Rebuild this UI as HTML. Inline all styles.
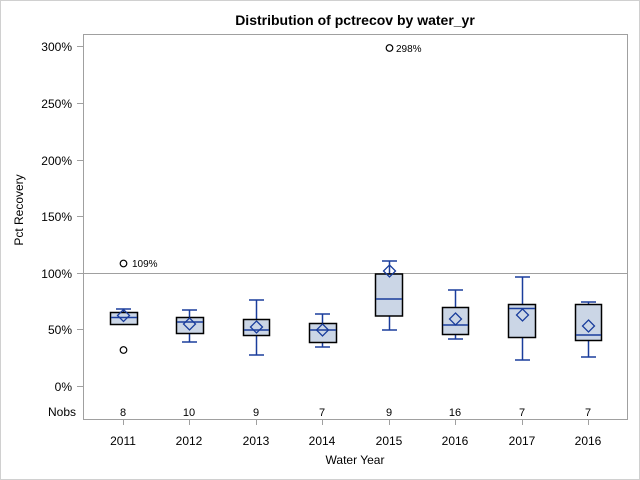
<!DOCTYPE html>
<html><head><meta charset="utf-8"><style>
html,body{margin:0;padding:0;background:#fff}
svg{display:block;font-family:"Liberation Sans",Arial,sans-serif}
</style></head><body>
<svg width="640" height="480" viewBox="0 0 640 480">
<rect x="0.5" y="0.5" width="639" height="479" fill="#fff" stroke="#d0d0d0"/>
<text x="355" y="25" text-anchor="middle" font-size="14" font-weight="bold" fill="#000">Distribution of pctrecov by water_yr</text>
<rect x="83.5" y="34.5" width="544" height="385" fill="none" stroke="#a0a0a0"/>
<line x1="83" y1="273.5" x2="627" y2="273.5" stroke="#a0a0a0"/>
<g font-size="12" fill="#000" text-anchor="end">
<text x="72" y="51">300%</text><text x="72" y="108">250%</text><text x="72" y="165">200%</text>
<text x="72" y="221">150%</text><text x="72" y="278">100%</text><text x="72" y="334">50%</text>
<text x="72" y="391">0%</text><text x="76" y="416">Nobs</text>
</g>
<g stroke="#a0a0a0">
<line x1="77" y1="46.5" x2="83" y2="46.5"/><line x1="77" y1="103.5" x2="83" y2="103.5"/>
<line x1="77" y1="160.5" x2="83" y2="160.5"/><line x1="77" y1="216.5" x2="83" y2="216.5"/>
<line x1="77" y1="273.5" x2="83" y2="273.5"/><line x1="77" y1="329.5" x2="83" y2="329.5"/>
<line x1="77" y1="386.5" x2="83" y2="386.5"/>
</g>
<text x="23" y="210" font-size="12" text-anchor="middle" transform="rotate(-90 23 210)">Pct Recovery</text>
<text x="355" y="464" font-size="12" text-anchor="middle">Water Year</text>
<g font-size="12" text-anchor="middle">
<text x="123" y="445">2011</text><text x="189" y="445">2012</text><text x="256" y="445">2013</text><text x="322" y="445">2014</text>
<text x="389" y="445">2015</text><text x="455" y="445">2016</text><text x="522" y="445">2017</text><text x="588" y="445">2016</text>
</g>
<g font-size="11" text-anchor="middle">
<text x="123" y="416">8</text><text x="189" y="416">10</text><text x="256" y="416">9</text><text x="322" y="416">7</text>
<text x="389" y="416">9</text><text x="455" y="416">16</text><text x="522" y="416">7</text><text x="588" y="416">7</text>
</g>
<g stroke="#a0a0a0">
<line x1="123.5" y1="419" x2="123.5" y2="425"/><line x1="189.5" y1="419" x2="189.5" y2="425"/>
<line x1="256.5" y1="419" x2="256.5" y2="425"/><line x1="322.5" y1="419" x2="322.5" y2="425"/>
<line x1="389.5" y1="419" x2="389.5" y2="425"/><line x1="455.5" y1="419" x2="455.5" y2="425"/>
<line x1="522.5" y1="419" x2="522.5" y2="425"/><line x1="588.5" y1="419" x2="588.5" y2="425"/>
</g>
<g id="boxes" stroke-width="1.5">
<!-- cx, box l..r, top,bottom, median, mean, wt, wb -->
<g>
<line x1="123.5" y1="309" x2="123.5" y2="324" stroke="#1a3d9c"/><line x1="116" y1="309" x2="131" y2="309" stroke="#1a3d9c"/>
<rect x="110.5" y="312.5" width="27" height="12" fill="#cbd6e6" stroke="#000"/>
<line x1="111" y1="317.5" x2="137" y2="317.5" stroke="#1a3d9c"/>
</g>
<g>
<line x1="189.5" y1="310" x2="189.5" y2="342" stroke="#1a3d9c"/><line x1="182" y1="310" x2="197" y2="310" stroke="#1a3d9c"/><line x1="182" y1="342" x2="197" y2="342" stroke="#1a3d9c"/>
<rect x="176.5" y="317.5" width="27" height="16" fill="#cbd6e6" stroke="#000"/>
<line x1="177" y1="322" x2="203" y2="322" stroke="#1a3d9c"/>
</g>
<g>
<line x1="256.5" y1="300" x2="256.5" y2="355" stroke="#1a3d9c"/><line x1="249" y1="300" x2="264" y2="300" stroke="#1a3d9c"/><line x1="249" y1="355" x2="264" y2="355" stroke="#1a3d9c"/>
<rect x="243.5" y="319.5" width="26" height="16" fill="#cbd6e6" stroke="#000"/>
<line x1="244" y1="330" x2="269" y2="330" stroke="#1a3d9c"/>
</g>
<g>
<line x1="322.5" y1="314" x2="322.5" y2="347" stroke="#1a3d9c"/><line x1="315" y1="314" x2="330" y2="314" stroke="#1a3d9c"/><line x1="315" y1="347" x2="330" y2="347" stroke="#1a3d9c"/>
<rect x="309.5" y="323.5" width="27" height="19" fill="#cbd6e6" stroke="#000"/>
<line x1="310" y1="330" x2="336" y2="330" stroke="#1a3d9c"/>
</g>
<g>
<line x1="389.5" y1="261" x2="389.5" y2="330" stroke="#1a3d9c"/><line x1="382" y1="261" x2="397" y2="261" stroke="#1a3d9c"/><line x1="382" y1="330" x2="397" y2="330" stroke="#1a3d9c"/>
<rect x="375.5" y="274" width="27" height="42" fill="#cbd6e6" stroke="#000"/>
<line x1="376" y1="299" x2="402" y2="299" stroke="#1a3d9c"/>
</g>
<g>
<line x1="455.5" y1="290" x2="455.5" y2="339" stroke="#1a3d9c"/><line x1="448" y1="290" x2="463" y2="290" stroke="#1a3d9c"/><line x1="448" y1="339" x2="463" y2="339" stroke="#1a3d9c"/>
<rect x="442.5" y="307.5" width="26" height="27" fill="#cbd6e6" stroke="#000"/>
<line x1="443" y1="325" x2="468" y2="325" stroke="#1a3d9c"/>
</g>
<g>
<line x1="522.5" y1="277" x2="522.5" y2="360" stroke="#1a3d9c"/><line x1="515" y1="277" x2="530" y2="277" stroke="#1a3d9c"/><line x1="515" y1="360" x2="530" y2="360" stroke="#1a3d9c"/>
<rect x="508.5" y="304.5" width="27" height="33" fill="#cbd6e6" stroke="#000"/>
<line x1="509" y1="308.5" x2="535" y2="308.5" stroke="#1a3d9c"/>
</g>
<g>
<line x1="588.5" y1="302" x2="588.5" y2="357" stroke="#1a3d9c"/><line x1="581" y1="302" x2="596" y2="302" stroke="#1a3d9c"/><line x1="581" y1="357" x2="596" y2="357" stroke="#1a3d9c"/>
<rect x="575.5" y="304.5" width="26" height="36" fill="#cbd6e6" stroke="#000"/>
<line x1="576" y1="335" x2="601" y2="335" stroke="#1a3d9c"/>
</g>
</g>
<g fill="none" stroke="#1a3d9c" stroke-width="1.3">
<path d="M123.5 309.5 l6 6 l-6 6 l-6 -6z"/>
<path d="M189.5 318 l6 6 l-6 6 l-6 -6z"/>
<path d="M256.5 321 l6 6 l-6 6 l-6 -6z"/>
<path d="M322.5 324 l6 6 l-6 6 l-6 -6z"/>
<path d="M389.5 265 l6 6 l-6 6 l-6 -6z"/>
<path d="M455.5 313 l6 6 l-6 6 l-6 -6z"/>
<path d="M522.5 309 l6 6 l-6 6 l-6 -6z"/>
<path d="M588.5 320 l6 6 l-6 6 l-6 -6z"/>
</g>
<g fill="none" stroke="#000" stroke-width="1.2">
<circle cx="123.5" cy="263.5" r="3.3"/>
<circle cx="123.5" cy="350" r="3.3"/>
<circle cx="389.5" cy="48" r="3.3"/>
</g>
<text x="132" y="267" font-size="10">109%</text>
<text x="396" y="52" font-size="10">298%</text>
</svg>
</body></html>
